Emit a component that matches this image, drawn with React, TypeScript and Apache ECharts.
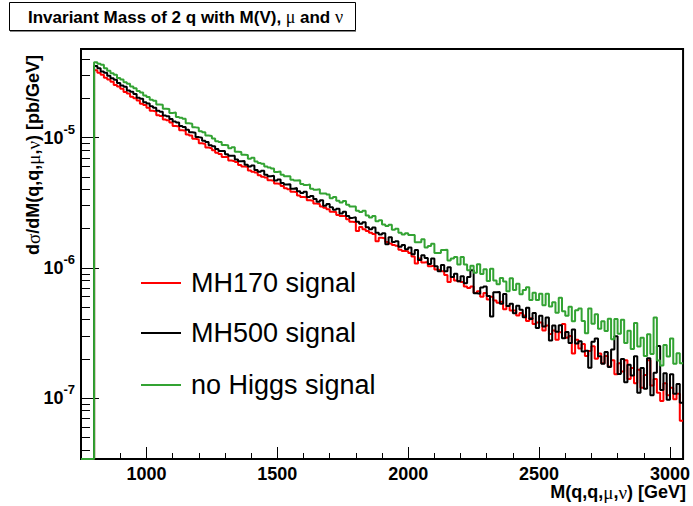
import React, { useEffect, useRef } from "react";
import * as echarts from "echarts";

// ---- axis ranges ----
const X_MIN = 750;
const X_MAX = 3050;
const Y_MIN = 3.4e-8;
const Y_MAX = 4.8e-5;

// ---- histogram binning (bin lower edges start at 750 GeV, 12.5 GeV wide) ----
const BIN_START = 750;
const BIN_WIDTH = 12.5;
const UNIT = 1e-8; // values below are in units of 1e-8 pb/GeV

// ---- ticks ----
const xMajorTicks = [1000, 1500, 2000, 2500, 3000];
const xMinorTicks = [800, 900, 1100, 1200, 1300, 1400, 1600, 1700, 1800, 1900, 2100, 2200, 2300, 2400, 2600, 2700, 2800, 2900];
const yDecades = [-8, -7, -6, -5];
const yMinorMantissas = [2, 3, 4, 5, 6, 7, 8, 9];

// ---- legend / series names ----
const seriesNames = ["MH170 signal", "MH500 signal", "no Higgs signal"];
const seriesColors = ["#ff0000", "#000000", "#33a333"];

// ---- series values (per bin, units of 1e-8 pb/GeV) ----
const mh170Signal = [
  0, 0, 0, 0,
  3300, 3150, 3050, 2890, 2800, 2690, 2540, 2470, 2380, 2240, 2180, 2060, 2010, 1930, 1820, 1780,
  1700, 1610, 1590, 1490, 1470, 1380, 1360, 1310, 1230, 1220, 1140, 1130, 1060, 1040, 980, 970, 905, 895, 840, 830,
  800, 765, 748, 712, 715, 668, 660, 650, 618, 600, 598, 560, 548, 540, 515, 502, 495, 470, 466, 445,
  440, 425, 408, 402, 384, 382, 360, 350, 348, 330, 328, 312, 310, 296, 290, 282, 270, 268, 255, 250,
  250, 236, 226, 224, 192, 206, 198, 192, 186, 182, 160, 170, 168, 158, 154, 150, 148, 138, 135, 134,
  130, 122, 108, 118, 110, 111, 103, 104, 97, 96, 94, 88, 78, 85, 80, 79, 78, 72, 70, 72,
  64, 66, 60, 64, 57, 60, 56, 54, 55, 48, 51, 47, 47, 43, 45, 43, 39, 41, 37, 38,
  38, 33, 36, 31, 33, 28, 32, 37, 29, 30, 22, 28, 24, 26, 21, 23, 25, 20, 22, 18.5,
  21, 17.5, 19.5, 15.2, 18.5, 16, 19.5, 14, 17, 13, 16.5, 12, 15, 19.5, 12.5, 14, 11, 9.5, 13, 10.5, 12, 9.8, 10.8, 6.7,
];

const mh500Signal = [
  0, 0, 0, 0,
  3560, 3420, 3230, 3160, 2990, 2860, 2790, 2630, 2520, 2460, 2300, 2250, 2170, 2030, 1990, 1870,
  1830, 1740, 1700, 1610, 1580, 1480, 1460, 1390, 1330, 1310, 1230, 1210, 1150, 1100, 1090, 1010, 1000, 945, 925, 875,
  860, 820, 790, 790, 745, 725, 725, 680, 660, 662, 620, 600, 610, 565, 548, 556, 520, 505, 510, 468,
  478, 448, 436, 438, 405, 410, 388, 375, 385, 350, 356, 338, 322, 330, 300, 310, 292, 280, 284, 262,
  270, 250, 242, 245, 226, 218, 224, 205, 198, 204, 186, 180, 184, 152, 172, 158, 160, 145, 150, 139,
  143, 127, 137, 115, 125, 119, 107, 118, 103, 94, 105, 94, 101, 85, 90, 79, 86, 76, 85, 96,
  63.7, 63.2, 70.7, 71.8, 60.7, 42.2, 64.9, 65.2, 53.0, 62.9, 50.9, 52.9, 44.8, 51.2, 47.7, 41.8, 49.3, 40.5, 45.0, 34.5,
  42.8, 35.4, 41.6, 27.6, 36.0, 32.3, 36.2, 28.8, 32.1, 26.5, 33.6, 26.2, 27.3, 22.8, 23.1, 17.1, 27.1, 28.6, 20.9, 18.3,
  22.6, 17.3, 23.6, 29.8, 15.3, 19.9, 13.2, 18.0, 14.9, 20.9, 11.0, 17.0, 11.8, 20.2, 10.5, 15.6, 25.1, 11.5, 15.5, 9.7, 15.2, 10.8, 12.8, 9.2,
];

const noHiggsSignal = [
  0, 0, 0, 0,
  3790, 3700, 3640, 3420, 3260, 3120, 3040, 2880, 2800, 2660, 2600, 2470, 2400, 2280, 2220, 2110,
  2050, 1960, 1920, 1800, 1790, 1670, 1660, 1550, 1560, 1440, 1420, 1400, 1290, 1280, 1200, 1190, 1120, 1100, 1040, 1030,
  985, 940, 925, 880, 875, 830, 845, 780, 775, 740, 735, 690, 700, 655, 640, 630, 600, 590, 580, 545,
  550, 518, 506, 505, 475, 468, 470, 440, 432, 436, 405, 398, 402, 372, 372, 366, 342, 350, 328, 318,
  326, 305, 296, 296, 274, 268, 275, 252, 244, 250, 228, 232, 215, 210, 214, 196, 200, 186, 180, 184,
  179, 179, 157, 157, 166, 143, 147, 153, 130, 130, 137, 138, 114, 118, 121, 106, 121, 106, 96, 104,
  91.8, 106.5, 89.8, 97.4, 79.1, 98.4, 80.0, 74.7, 83.7, 78.5, 66.0, 83.2, 67.5, 75.4, 62.7, 67.7, 71.0, 56.7, 64.3, 56.7,
  63.3, 51.7, 63.1, 50.4, 54.5, 45.1, 59.0, 46.5, 42.9, 50.3, 38.8, 47.2, 48.7, 39.1, 31.5, 48.7, 37.2, 44.1, 34.0, 38.9,
  32.7, 40.7, 28.3, 40.4, 31.2, 40.0, 26.5, 32.9, 23.8, 37.7, 24.9, 29.0, 21.0, 30.9, 21.8, 41.5, 19.4, 17.8, 25.5, 20.8, 28.6, 18.3, 22.1, 18.5,
];

const SANS = '"Liberation Sans", Arial, Helvetica, sans-serif';
const SERIF = '"Liberation Serif", "DejaVu Serif", serif';

function toSteps(vals: number[]): number[][] {
  // Histogram drawn as a step line through bin lower edges; empty bins sit on the axis floor (as ROOT does).
  const pts = vals.map((v, i) => [BIN_START + i * BIN_WIDTH, v > 0 ? v * UNIT : Y_MIN]);
  pts.push([BIN_START + vals.length * BIN_WIDTH, pts[pts.length - 1][1]]);
  return pts;
}

export default function App() {
  const ref = useRef<HTMLDivElement>(null);

  useEffect(() => {
    if (!ref.current) return;
    const chart = echarts.init(ref.current, undefined, { renderer: "svg" });

    const yMinorValues: number[] = [];
    yDecades.forEach((d) => yMinorMantissas.forEach((m) => yMinorValues.push(Math.log10(m) + d)));
    const yLogMin = Math.log10(Y_MIN);
    const yLogMax = Math.log10(Y_MAX);

    const allValues = [mh170Signal, mh500Signal, noHiggsSignal];

    const legendTops = [268, 318, 370];

    const option: any = {
      animation: false,
      backgroundColor: "#ffffff",
      grid: {
        left: 81,
        top: 49,
        width: 605,
        height: 410,
        show: true,
        borderColor: "#000",
        borderWidth: 2,
        backgroundColor: "transparent",
      },
      xAxis: [
        {
          type: "value",
          min: X_MIN,
          max: X_MAX,
          position: "bottom",
          axisLine: { show: false },
          splitLine: { show: false },
          axisTick: {
            show: true,
            inside: true,
            length: 12,
            customValues: xMajorTicks,
            lineStyle: { color: "#000", width: 1 },
          },
          axisLabel: {
            customValues: xMajorTicks,
            formatter: (v: number) => String(v),
            fontFamily: SANS,
            fontWeight: "bold",
            fontSize: 18,
            color: "#000",
            margin: 6,
          },
        },
        {
          type: "value",
          min: X_MIN,
          max: X_MAX,
          position: "bottom",
          axisLine: { show: false },
          splitLine: { show: false },
          axisLabel: { show: false },
          axisTick: {
            show: true,
            inside: true,
            length: 6,
            customValues: xMinorTicks,
            lineStyle: { color: "#000", width: 1 },
          },
        },
      ],
      yAxis: [
        {
          type: "log",
          logBase: 10,
          min: Y_MIN,
          max: Y_MAX,
          position: "left",
          axisLine: { show: false },
          splitLine: { show: false },
          minorTick: { show: false },
          axisTick: { show: true, inside: true, length: 18, lineStyle: { color: "#000", width: 1 } },
          axisLabel: {
            margin: 6,
            formatter: (v: number) => {
              const e = Math.log10(v);
              const r = Math.round(e);
              if (Math.abs(e - r) > 1e-6) return "";
              return `{b|10}{s|${r}}`;
            },
            rich: {
              b: { fontFamily: SANS, fontWeight: "bold", fontSize: 18, color: "#000", lineHeight: 30 },
              s: { fontFamily: SANS, fontWeight: "bold", fontSize: 13, color: "#000", lineHeight: 12, verticalAlign: "top" },
            },
          },
        },
        {
          type: "value",
          min: yLogMin,
          max: yLogMax,
          position: "left",
          axisLine: { show: false },
          splitLine: { show: false },
          axisLabel: { show: false },
          axisTick: {
            show: true,
            inside: true,
            length: 9,
            customValues: yMinorValues,
            lineStyle: { color: "#000", width: 1 },
          },
        },
      ],
      legend: seriesNames.map((name, i) => ({
        data: [name],
        left: 141,
        top: legendTops[i],
        orient: "vertical",
        padding: 0,
        icon: "rect",
        itemWidth: 40,
        itemHeight: 2,
        selectedMode: false,
        textStyle: { fontFamily: SANS, fontSize: 27, color: "#000", lineHeight: 30, padding: [0, 0, 0, 5] },
      })),
      series: seriesNames.map((name, i) => ({
        type: "line",
        name,
        data: toSteps(allValues[i]),
        step: "end",
        symbol: "none",
        showSymbol: false,
        color: seriesColors[i],
        lineStyle: { color: seriesColors[i], width: 2 },
        xAxisIndex: 0,
        yAxisIndex: 0,
        z: 2 + i,
      })),
      graphic: [
        {
          type: "rect",
          shape: { x: 9.5, y: 2.5, width: 346, height: 28 },
          style: { fill: "#fff", stroke: "#000", lineWidth: 1 },
        },
        {
          type: "line",
          shape: { x1: 10, y1: 31.5, x2: 356, y2: 31.5 },
          style: { stroke: "#888", lineWidth: 1 },
        },
        {
          type: "text",
          x: 28,
          y: 17,
          style: {
            text: "{t|Invariant Mass of 2 q with M(V),}{g| μ}{t| and }{g|ν}",
            align: "left",
            verticalAlign: "middle",
            textAlign: "left",
            textVerticalAlign: "middle",
            rich: {
              t: { fontFamily: SANS, fontWeight: "bold", fontSize: 17, fill: "#000" },
              g: { fontFamily: SERIF, fontSize: 18, fill: "#000" },
            },
          },
        },
        {
          type: "text",
          x: 686,
          y: 492,
          style: {
            text: "{t|M(q,q,}{g|μ}{t|,}{g|ν}{t|) [GeV]}",
            align: "right",
            verticalAlign: "middle",
            textAlign: "right",
            textVerticalAlign: "middle",
            rich: {
              t: { fontFamily: SANS, fontWeight: "bold", fontSize: 18, fill: "#000" },
              g: { fontFamily: SERIF, fontSize: 19, fill: "#000" },
            },
          },
        },
        {
          type: "text",
          x: 33,
          y: 55,
          rotation: Math.PI / 2,
          style: {
            text: "{t|d}{g|σ}{t|/dM(q,q,}{g|μ}{t|,}{g|ν}{t|) [pb/GeV]}",
            align: "right",
            verticalAlign: "middle",
            textAlign: "right",
            textVerticalAlign: "middle",
            rich: {
              t: { fontFamily: SANS, fontWeight: "bold", fontSize: 18, fill: "#000" },
              g: { fontFamily: SERIF, fontSize: 19, fill: "#000" },
            },
          },
        },
      ],
    };

    chart.setOption(option);
    return () => chart.dispose();
  }, []);

  return (
    <div
      ref={ref}
      style={{ position: "absolute", left: 0, top: 0, width: 693, height: 506, background: "#fff" }}
    />
  );
}
